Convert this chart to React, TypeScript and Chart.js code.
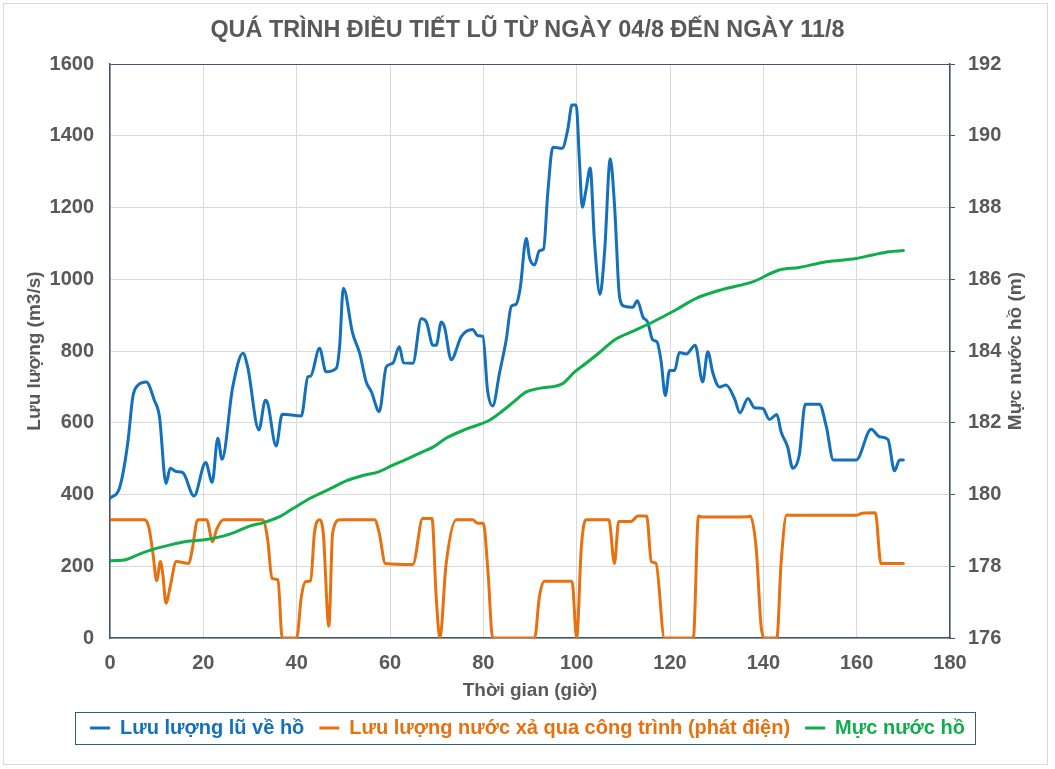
import { useEffect, useRef } from "react";
import { Chart, registerables } from "chart.js";
import type { ChartConfiguration, Plugin } from "chart.js";

Chart.register(...registerables);

const FONT = "'Liberation Sans', Arial, sans-serif";
const TEXT = "#595959";
const AXIS = "#44546a";
const GRID = "#d9d9d9";

const TITLE = "QUÁ TRÌNH ĐIỀU TIẾT LŨ TỪ NGÀY 04/8 ĐẾN NGÀY 11/8";
const X_TITLE = "Thời gian (giờ)";
const Y_TITLE = "Lưu lượng (m3/s)";
const Y1_TITLE = "Mực nước hồ (m)";
const SERIES = ["Lưu lượng lũ về hồ", "Lưu lượng nước xả qua công trình (phát điện)", "Mực nước hồ"];

// lưu lượng lũ về hồ (m3/s)
const inflowHours = [
  0, 2, 3.8, 4.9, 6, 7.8, 9.5, 10.6, 12, 12.9, 14.2, 15.6, 18, 20.5, 21.9, 23.1, 24, 26.3, 28.5, 29.5,
  31.9, 33.3, 33.8, 35.6, 36.9, 41, 42.4, 43, 44.9, 46.3, 48.5, 49.2, 50, 52, 53.5, 54.9, 56, 57.7, 59.2, 60.6,
  62, 62.9, 64.9, 66.7, 67.8, 69.2, 69.9, 71, 71.7, 73.1, 75.3, 77.7, 78.8, 79.9, 80.9, 82, 83.5, 84.9, 86, 87,
  87.9, 89.2, 89.9, 91, 92, 92.9, 93.8, 94.9, 96.9, 98.1, 99, 99.9, 100.6, 101.2, 102, 102.9, 103.8, 105, 106, 107.2,
  108.1, 109.2, 110.2, 112, 113, 114.2, 115.2, 116.3, 117.2, 118.1, 119, 119.9, 121, 122, 123.5, 125.4, 127, 128.1, 129.2, 130.6,
  132, 133.8, 135, 136.7, 138.1, 139.9, 141.3, 142.9, 143.8, 145.2, 146.3, 147.7, 149, 152, 153.5, 155, 159.9, 163.1, 164.9, 166.7,
  168.1, 169.2, 170,
];
const inflow = [
  390, 417, 543, 673, 705, 714, 663, 617, 431, 473, 464, 461, 396, 489, 434, 557, 498, 700, 794, 756,
  580, 663, 654, 535, 624, 619, 728, 730, 808, 742, 752, 812, 975, 849, 794, 714, 687, 631, 756, 766,
  812, 767, 766, 890, 881, 816, 816, 881, 866, 776, 841, 860, 843, 841, 691, 647, 741, 831, 925, 930,
  975, 1114, 1060, 1040, 1080, 1084, 1239, 1368, 1365, 1418, 1486, 1486, 1328, 1201, 1249, 1310, 1109, 958, 1080, 1336,
  1209, 950, 925, 922, 940, 895, 881, 831, 826, 771, 676, 746, 746, 796, 792, 816, 714, 798, 738, 700,
  705, 668, 628, 668, 642, 640, 609, 623, 575, 533, 473, 510, 652, 652, 589, 496, 496, 582, 561, 554,
  466, 496, 496,
];

// lưu lượng xả qua công trình (m3/s)
const outflowHours = [
  0, 7.4, 8.3, 9.2, 10, 10.8, 11.3, 12, 12.9, 14.2, 16.9, 17.6, 18.8, 20.7, 22, 22.8, 24.3, 32.7, 33.8, 34.7,
  36, 36.9, 40, 41, 41.9, 43, 43.8, 44.9, 45.7, 46.9, 47.7, 49.3, 56.7, 57.7, 59, 64.9, 67, 69, 69.9, 70.7,
  72, 74.2, 77.7, 78.8, 80, 81, 82, 91, 92, 93.1, 99, 100, 101, 102, 106.9, 108.1, 109, 111.7, 113.1, 115,
  116, 117, 118.8, 125, 126.1, 127, 136.7, 137.2, 138.5, 139.5, 140.2, 142.9, 143.8, 145, 146, 159.9, 161.2, 164, 165.2, 170,
];
const outflow = [
  330, 330, 310, 236, 160, 213, 180, 97, 143, 213, 208, 245, 330, 330, 268, 301, 330, 330, 273, 166,
  162, 0, 0, 115, 157, 159, 292, 330, 292, 33, 292, 330, 330, 292, 208, 205, 333, 333, 114, 0,
  203, 330, 330, 320, 320, 184, 0, 0, 114, 158, 158, 0, 254, 330, 330, 208, 325, 325, 340, 340,
  213, 208, 0, 0, 340, 337, 338, 340, 245, 36, 0, 0, 208, 343, 342, 342, 348, 349, 208, 208,
];

// mực nước hồ (m)
const levelHours = [
  0, 3.5, 6.3, 9.2, 12.7, 16.3, 19.9, 24.2, 27, 29.9, 32.7, 36, 39.2, 42.8, 47, 50.6, 54.2, 57.7, 60.6, 63.5,
  66.3, 69.2, 72, 76.3, 81.3, 83.5, 86.3, 89.2, 92, 97, 99.5, 102, 104.9, 108.1, 112, 116.3, 121.3, 125.6, 131.3, 137.7,
  143.4, 147.7, 153.5, 159.9, 163.4, 167, 170,
];
const level = [
  178.15, 178.19, 178.34, 178.47, 178.59, 178.69, 178.73, 178.84, 178.96, 179.12, 179.21, 179.36, 179.61, 179.89, 180.15, 180.38, 180.53, 180.64, 180.82, 180.98,
  181.15, 181.32, 181.57, 181.82, 182.07, 182.27, 182.56, 182.86, 182.96, 183.09, 183.41, 183.66, 183.96, 184.31, 184.55, 184.81, 185.15, 185.47, 185.72, 185.93,
  186.26, 186.33, 186.49, 186.58, 186.68, 186.77, 186.8,
];

const toPoints = (xs: number[], ys: number[]) => xs.map((x, i) => ({ x, y: ys[i] }));

// khung quanh chú thích + tiêu đề trục phải (xoay như trục trái)
const extras: Plugin<"line"> = {
  id: "extras",
  afterDraw(chart) {
    const { ctx, chartArea } = chart;
    const boxes = (chart.legend as any)?.legendHitBoxes as { left: number; top: number; width: number; height: number }[];
    ctx.save();
    if (boxes && boxes.length) {
      const left = Math.min(...boxes.map((b) => b.left));
      const right = Math.max(...boxes.map((b) => b.left + b.width));
      const top = boxes[0].top;
      ctx.strokeStyle = "#2f5f7f";
      ctx.lineWidth = 1;
      ctx.strokeRect(Math.round(left - 15) + 0.5, Math.round(top - 6) + 0.5, Math.round(right - left + 25), Math.round(boxes[0].height + 12));
    }
    ctx.translate(1016, (chartArea.top + chartArea.bottom) / 2);
    ctx.rotate(-Math.PI / 2);
    ctx.font = `bold 19px ${FONT}`;
    ctx.fillStyle = TEXT;
    ctx.textAlign = "center";
    ctx.textBaseline = "middle";
    ctx.fillText(Y1_TITLE, 0, 0);
    ctx.restore();
  },
};

export default function App() {
  const canvasRef = useRef<HTMLCanvasElement | null>(null);

  useEffect(() => {
    const ctx = canvasRef.current!.getContext("2d")!;
    const tickFont = { family: FONT, size: 20, weight: "bold" as const };
    const titleFont = { family: FONT, size: 19, weight: "bold" as const };

    const config: ChartConfiguration<"line", { x: number; y: number }[], number> = {
      type: "line",
      data: {
        datasets: [
          {
            label: SERIES[0],
            data: toPoints(inflowHours, inflow),
            borderColor: "#1270bd",
            backgroundColor: "#1270bd",
            yAxisID: "y",
            order: 3,
          },
          {
            label: SERIES[1],
            data: toPoints(outflowHours, outflow),
            borderColor: "#e8710f",
            backgroundColor: "#e8710f",
            yAxisID: "y",
            order: 2,
          },
          {
            label: SERIES[2],
            data: toPoints(levelHours, level),
            borderColor: "#0fae4a",
            backgroundColor: "#0fae4a",
            yAxisID: "y1",
            order: 1,
          },
        ],
      },
      options: {
        responsive: false,
        animation: false,
        parsing: false,
        layout: { padding: { left: 0, right: 0, top: 0, bottom: 21 } },
        elements: {
          line: { borderWidth: 3, cubicInterpolationMode: "monotone", borderCapStyle: "round", borderJoinStyle: "round" },
          point: { radius: 0, hoverRadius: 0 },
        },
        plugins: {
          title: {
            display: true,
            text: TITLE,
            color: TEXT,
            font: { family: FONT, size: 23.4, weight: "bold" },
            padding: { top: 17, bottom: 19 },
          },
          legend: {
            position: "bottom",
            labels: {
              font: tickFont,
              boxWidth: 20,
              boxHeight: 3,
              padding: 15,
              generateLabels: (chart) =>
                chart.data.datasets.map((ds, i) => ({
                  text: ds.label as string,
                  fillStyle: ds.borderColor as string,
                  strokeStyle: ds.borderColor as string,
                  fontColor: ds.borderColor as string,
                  lineWidth: 0,
                  hidden: false,
                  datasetIndex: i,
                })),
            },
          },
          tooltip: { enabled: false },
        },
        scales: {
          x: {
            type: "linear",
            min: 0,
            max: 180,
            ticks: { stepSize: 20, color: TEXT, font: tickFont, padding: 13, maxRotation: 0 },
            grid: { color: GRID, drawTicks: false },
            border: { display: true, color: AXIS, width: 1.5 },
            title: { display: true, text: X_TITLE, color: TEXT, font: titleFont, padding: { top: 0, bottom: 1 } },
            afterFit: (s) => {
              s.height = 65;
            },
          },
          y: {
            type: "linear",
            position: "left",
            min: 0,
            max: 1600,
            ticks: { stepSize: 200, color: TEXT, font: tickFont, padding: 16, callback: (v) => String(v) },
            grid: { color: (c) => (c.tick && c.tick.value === 1600 ? AXIS : GRID), drawTicks: false },
            border: { display: true, color: AXIS, width: 1.5 },
            title: { display: true, text: Y_TITLE, color: TEXT, font: titleFont, padding: { top: 23, bottom: 0 } },
            afterFit: (s) => {
              s.width = 110;
            },
          },
          y1: {
            type: "linear",
            position: "right",
            min: 176,
            max: 192,
            ticks: { stepSize: 2, color: TEXT, font: tickFont, padding: 13, callback: (v) => String(v) },
            grid: { drawOnChartArea: false, drawTicks: true, tickLength: 5, tickColor: AXIS, color: AXIS },
            border: { display: true, color: AXIS, width: 1.5 },
            afterFit: (s) => {
              s.width = 105;
            },
          },
        },
      },
      plugins: [extras],
    };

    const chart = new Chart(ctx, config);
    return () => chart.destroy();
  }, []);

  return (
    <div style={{ position: "fixed", left: 0, top: 0, width: 1055, height: 769, background: "#fff" }}>
      <div
        style={{
          position: "absolute",
          left: 3,
          top: 3,
          width: 1043,
          height: 760,
          border: "1px solid #d9d9d9",
        }}
      />
      <canvas ref={canvasRef} width={1055} height={769} style={{ position: "absolute", left: 0, top: 0 }} />
    </div>
  );
}
